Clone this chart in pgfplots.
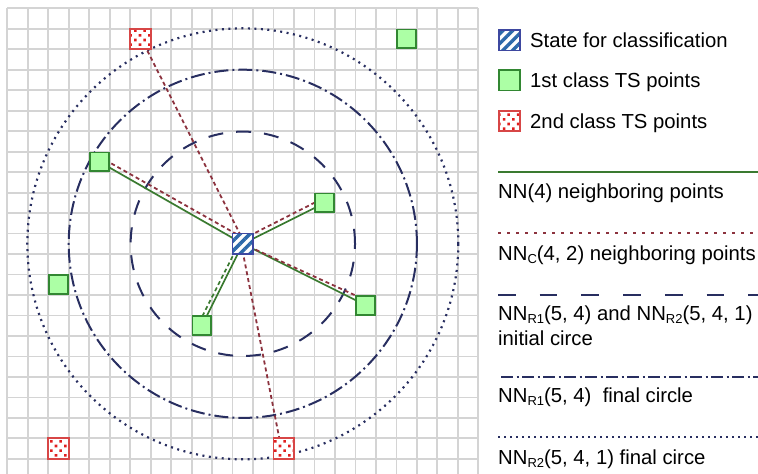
\documentclass[border=0pt]{standalone}
\usepackage{fontspec}
\setmainfont{Liberation Sans}
\usepackage{pgfplots}
\pgfplotsset{compat=1.18}
\usetikzlibrary{patterns,patterns.meta}

\definecolor{gridgray}{RGB}{212,212,212}
\definecolor{navy}{RGB}{40,46,96}
\definecolor{nnred}{RGB}{140,50,62}
\definecolor{nngreen}{RGB}{58,122,48}
\definecolor{ptgreen}{RGB}{172,255,165}
\definecolor{ptgreenedge}{RGB}{50,135,50}
\definecolor{ptred}{RGB}{225,30,30}
\definecolor{ptrededge}{RGB}{215,70,70}
\definecolor{stateblue}{RGB}{45,105,170}
\definecolor{stateedge}{RGB}{62,72,160}

\newcommand{\sub}[1]{\raisebox{-3.5pt}{\fontsize{13}{13}\selectfont #1}}

\tikzset{
  statesq/.style={preaction={fill=white}, pattern={Lines[angle=45,distance=7pt,line width=3.4pt]},
    pattern color=stateblue, draw=stateedge, line width=1.6pt, line cap=rect},
  redsq/.style={preaction={fill=white}, pattern={Dots[angle=45,distance=6.6pt,radius=1.8pt]},
    pattern color=ptred, draw=ptrededge, line width=1.8pt, line cap=rect},
  greensq/.style={fill=ptgreen, draw=ptgreenedge, line width=1.8pt},
  nnline/.style={nngreen, line width=1.7pt},
  nncline/.style={nnred, line width=1.8pt, dash pattern=on 4pt off 3pt},
  circA/.style={navy, line width=2pt, dash pattern=on 15pt off 13pt},
  circB/.style={navy, line width=2pt, dash pattern=on 14pt off 4pt on 2pt off 4pt},
  circC/.style={navy, line width=2.2pt, dash pattern=on 2pt off 4.5pt},
}

\begin{document}
\begin{tikzpicture}
\begin{axis}[
  x=20.48pt, y=20.48pt,
  xmin=0, xmax=23, ymin=-0.74, ymax=22,
  axis line style={draw=none},
  xtick={0,...,23}, ytick={0,...,22},
  xticklabels={}, yticklabels={},
  ticklabel style={text opacity=0},
  major tick length=0pt,
  grid=major,
  grid style={draw=gridgray, line width=1.8pt},
  clip=true,
]
% circles around the state
\draw[circA] (axis cs:11.5,10.5) circle [radius=112.2pt];
\draw[circB] (axis cs:11.5,10.5) circle [radius=174.1pt];
\draw[circC] (axis cs:11.5,10.5) circle [radius=215.5pt];

% NN(4) neighbours
\addplot[nnline] coordinates {(11.5,10.5) (4.5,14.5)};
\addplot[nnline] coordinates {(11.5,10.5) (15.5,12.5)};
\addplot[nnline] coordinates {(11.5,10.5) (17.5,7.5)};
\addplot[nnline] coordinates {(11.5,10.5) (9.5,6.5)};
\addplot[nngreen, line width=1.7pt, dash pattern=on 4pt off 3pt] coordinates {(11.31,10.5) (9.29,6.5)};

% NN_C(4,2) neighbours
\addplot[nncline] coordinates {(11.5,10.8) (4.5,14.75)};
\addplot[nncline] coordinates {(11.55,10.6) (6.6,20.4)};
\addplot[nncline] coordinates {(11.42,10.5) (13.38,0.5)};
\addplot[nncline] coordinates {(11.5,10.73) (15.5,12.76)};
\addplot[nncline] coordinates {(11.5,10.5) (17.5,7.75)};

% 1st class TS points
\addplot[only marks, mark=square*, mark size=9.4pt, mark options={greensq}]
  coordinates {(19.5,20.5) (4.5,14.5) (15.5,12.5) (17.5,7.5) (9.5,6.5) (2.5,8.5)};

% 2nd class TS points
\addplot[redsq] coordinates {(6,20) (7,20) (7,21) (6,21) (6,20)};
\addplot[redsq] coordinates {(2,0) (3,0) (3,1) (2,1) (2,0)};
\addplot[redsq] coordinates {(13,0) (14,0) (14,1) (13,1) (13,0)};

% state for classification
\addplot[statesq] coordinates {(11,10) (12,10) (12,11) (11,11) (11,10)};
\end{axis}

% legend (pixel coordinates of the reference)
\begin{scope}[x=1pt, y=-1pt, shift={(-7.3pt,474pt)}]
\fontsize{20.3}{24}\selectfont
\draw[statesq] (499,30) rectangle (520,50.5);
\node[anchor=base west, inner sep=0pt] at (530,47.5) {State for classification};
\draw[greensq] (499,70) rectangle (520,90.5);
\node[anchor=base west, inner sep=0pt] at (530,87.5) {1st class TS points};
\draw[redsq] (499,111) rectangle (520,131);
\node[anchor=base west, inner sep=0pt] at (530,128.5) {2nd class TS points};

\draw[nnline] (498,172) -- (760,172);
\node[anchor=base west, inner sep=0pt] at (498,198.5) {NN(4) neighboring points};

\draw[nnred, line width=1.6pt, dash pattern=on 3.3pt off 5.7pt] (498,233) -- (760,233);
\node[anchor=base west, inner sep=0pt] at (498,260.5) {NN\sub{C}(4, 2) neighboring points};

\draw[navy, line width=2pt, dash pattern=on 17.7pt off 24pt] (498,295) -- (760,295);
\node[anchor=base west, inner sep=0pt] at (498,320.5) {NN\sub{R1}(5, 4) and NN\sub{R2}(5, 4, 1)};
\node[anchor=base west, inner sep=0pt] at (498,346) {initial circe};

\draw[navy, line width=2pt, dash pattern=on 12pt off 3.5pt on 2pt off 3.5pt] (501,377) -- (760,377);
\node[anchor=base west, inner sep=0pt] at (498,402.5) {NN\sub{R1}(5, 4)\ \ final circle};

\draw[navy, line width=1.6pt, dash pattern=on 1.6pt off 4.4pt] (498,437) -- (760,437);
\node[anchor=base west, inner sep=0pt] at (498,464.5) {NN\sub{R2}(5, 4, 1) final circe};
\end{scope}

\pgfresetboundingbox
\path[use as bounding box] (-7.3pt,0pt) rectangle (750.7pt,474pt);
\end{tikzpicture}
\end{document}
